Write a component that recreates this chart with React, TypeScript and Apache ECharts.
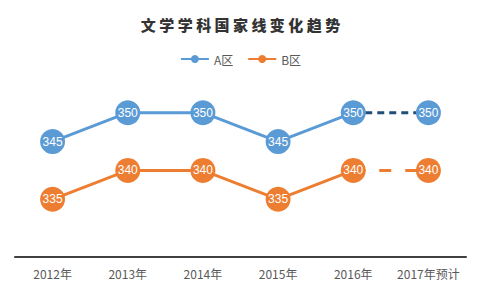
import React, { useEffect, useRef } from "react";
import * as echarts from "echarts";

const categories = ["2012年", "2013年", "2014年", "2015年", "2016年", "2017年预计"];
const seriesA = [345, 350, 350, 345, 350, null];
const seriesB = [335, 340, 340, 335, 340, null];
const forecastA = [null, null, null, null, 350, 350];
const forecastB = [null, null, null, null, 340, 340];
const titleText = "文 学 学 科 国 家 线 变 化 趋 势";

const BLUE = "#5b9bd5";
const ORANGE = "#ed7d31";

function forecastData(arr: (number | null)[]) {
  return arr.map((v, i) => {
    if (v === null) return "-";
    if (i === arr.length - 1) return { value: v };
    return { value: v, symbol: "none", label: { show: false } };
  });
}

export default function App() {
  const ref = useRef<HTMLDivElement>(null);
  useEffect(() => {
    if (!ref.current) return;
    const chart = echarts.init(ref.current, undefined, { renderer: "svg" });
    const labelCfg = {
      show: true,
      position: "inside",
      color: "#fff",
      fontSize: 12,
      fontFamily: "Liberation Sans, Arial, sans-serif",
    };
    chart.setOption({
      animation: false,
      title: {
        text: titleText,
        left: "center",
        top: 12,
        textStyle: {
          fontSize: 15,
          fontWeight: 900,
          color: "#333333",
          fontFamily: "Noto Sans CJK SC",
        },
      },
      legend: {
        top: 48,
        left: "center",
        itemWidth: 28,
        itemHeight: 10,
        itemGap: 14,
        textStyle: { color: "#595959", fontSize: 12, fontFamily: "Noto Sans CJK SC" },
        data: ["A区", "B区"],
      },
      grid: { left: 15, right: 15, top: 55, bottom: 32 },
      xAxis: {
        type: "category",
        data: categories,
        boundaryGap: true,
        axisLine: { lineStyle: { color: "#404040", width: 2 } },
        axisTick: { show: false },
        axisLabel: {
          interval: 0,
          color: "#595959",
          fontSize: 12,
          margin: 10,
          fontFamily: "Noto Sans CJK SC",
        },
      },
      yAxis: {
        type: "value",
        min: 325,
        max: 360,
        show: false,
        splitLine: { show: false },
      },
      series: [
        {
          name: "A区",
          type: "line",
          data: seriesA.map((v) => (v === null ? "-" : v)),
          symbol: "circle",
          symbolSize: 25,
          itemStyle: { color: BLUE },
          lineStyle: { color: BLUE, width: 3 },
          label: labelCfg,
          z: 3,
        },
        {
          name: "B区",
          type: "line",
          data: seriesB.map((v) => (v === null ? "-" : v)),
          symbol: "circle",
          symbolSize: 25,
          itemStyle: { color: ORANGE },
          lineStyle: { color: ORANGE, width: 3 },
          label: labelCfg,
          z: 3,
        },
        {
          name: "A区",
          type: "line",
          data: forecastData(forecastA),
          symbol: "circle",
          symbolSize: 25,
          itemStyle: { color: BLUE },
          lineStyle: { color: "#1f4e79", width: 3, type: [7, 5] },
          label: labelCfg,
          z: 1,
        },
        {
          name: "B区",
          type: "line",
          data: forecastData(forecastB),
          symbol: "circle",
          symbolSize: 25,
          itemStyle: { color: ORANGE },
          lineStyle: { color: ORANGE, width: 3, type: [12, 14] },
          label: labelCfg,
          z: 1,
        },
      ],
    });
    return () => chart.dispose();
  }, []);
  return <div ref={ref} style={{ width: 481, height: 289, margin: -8 }} />;
}
